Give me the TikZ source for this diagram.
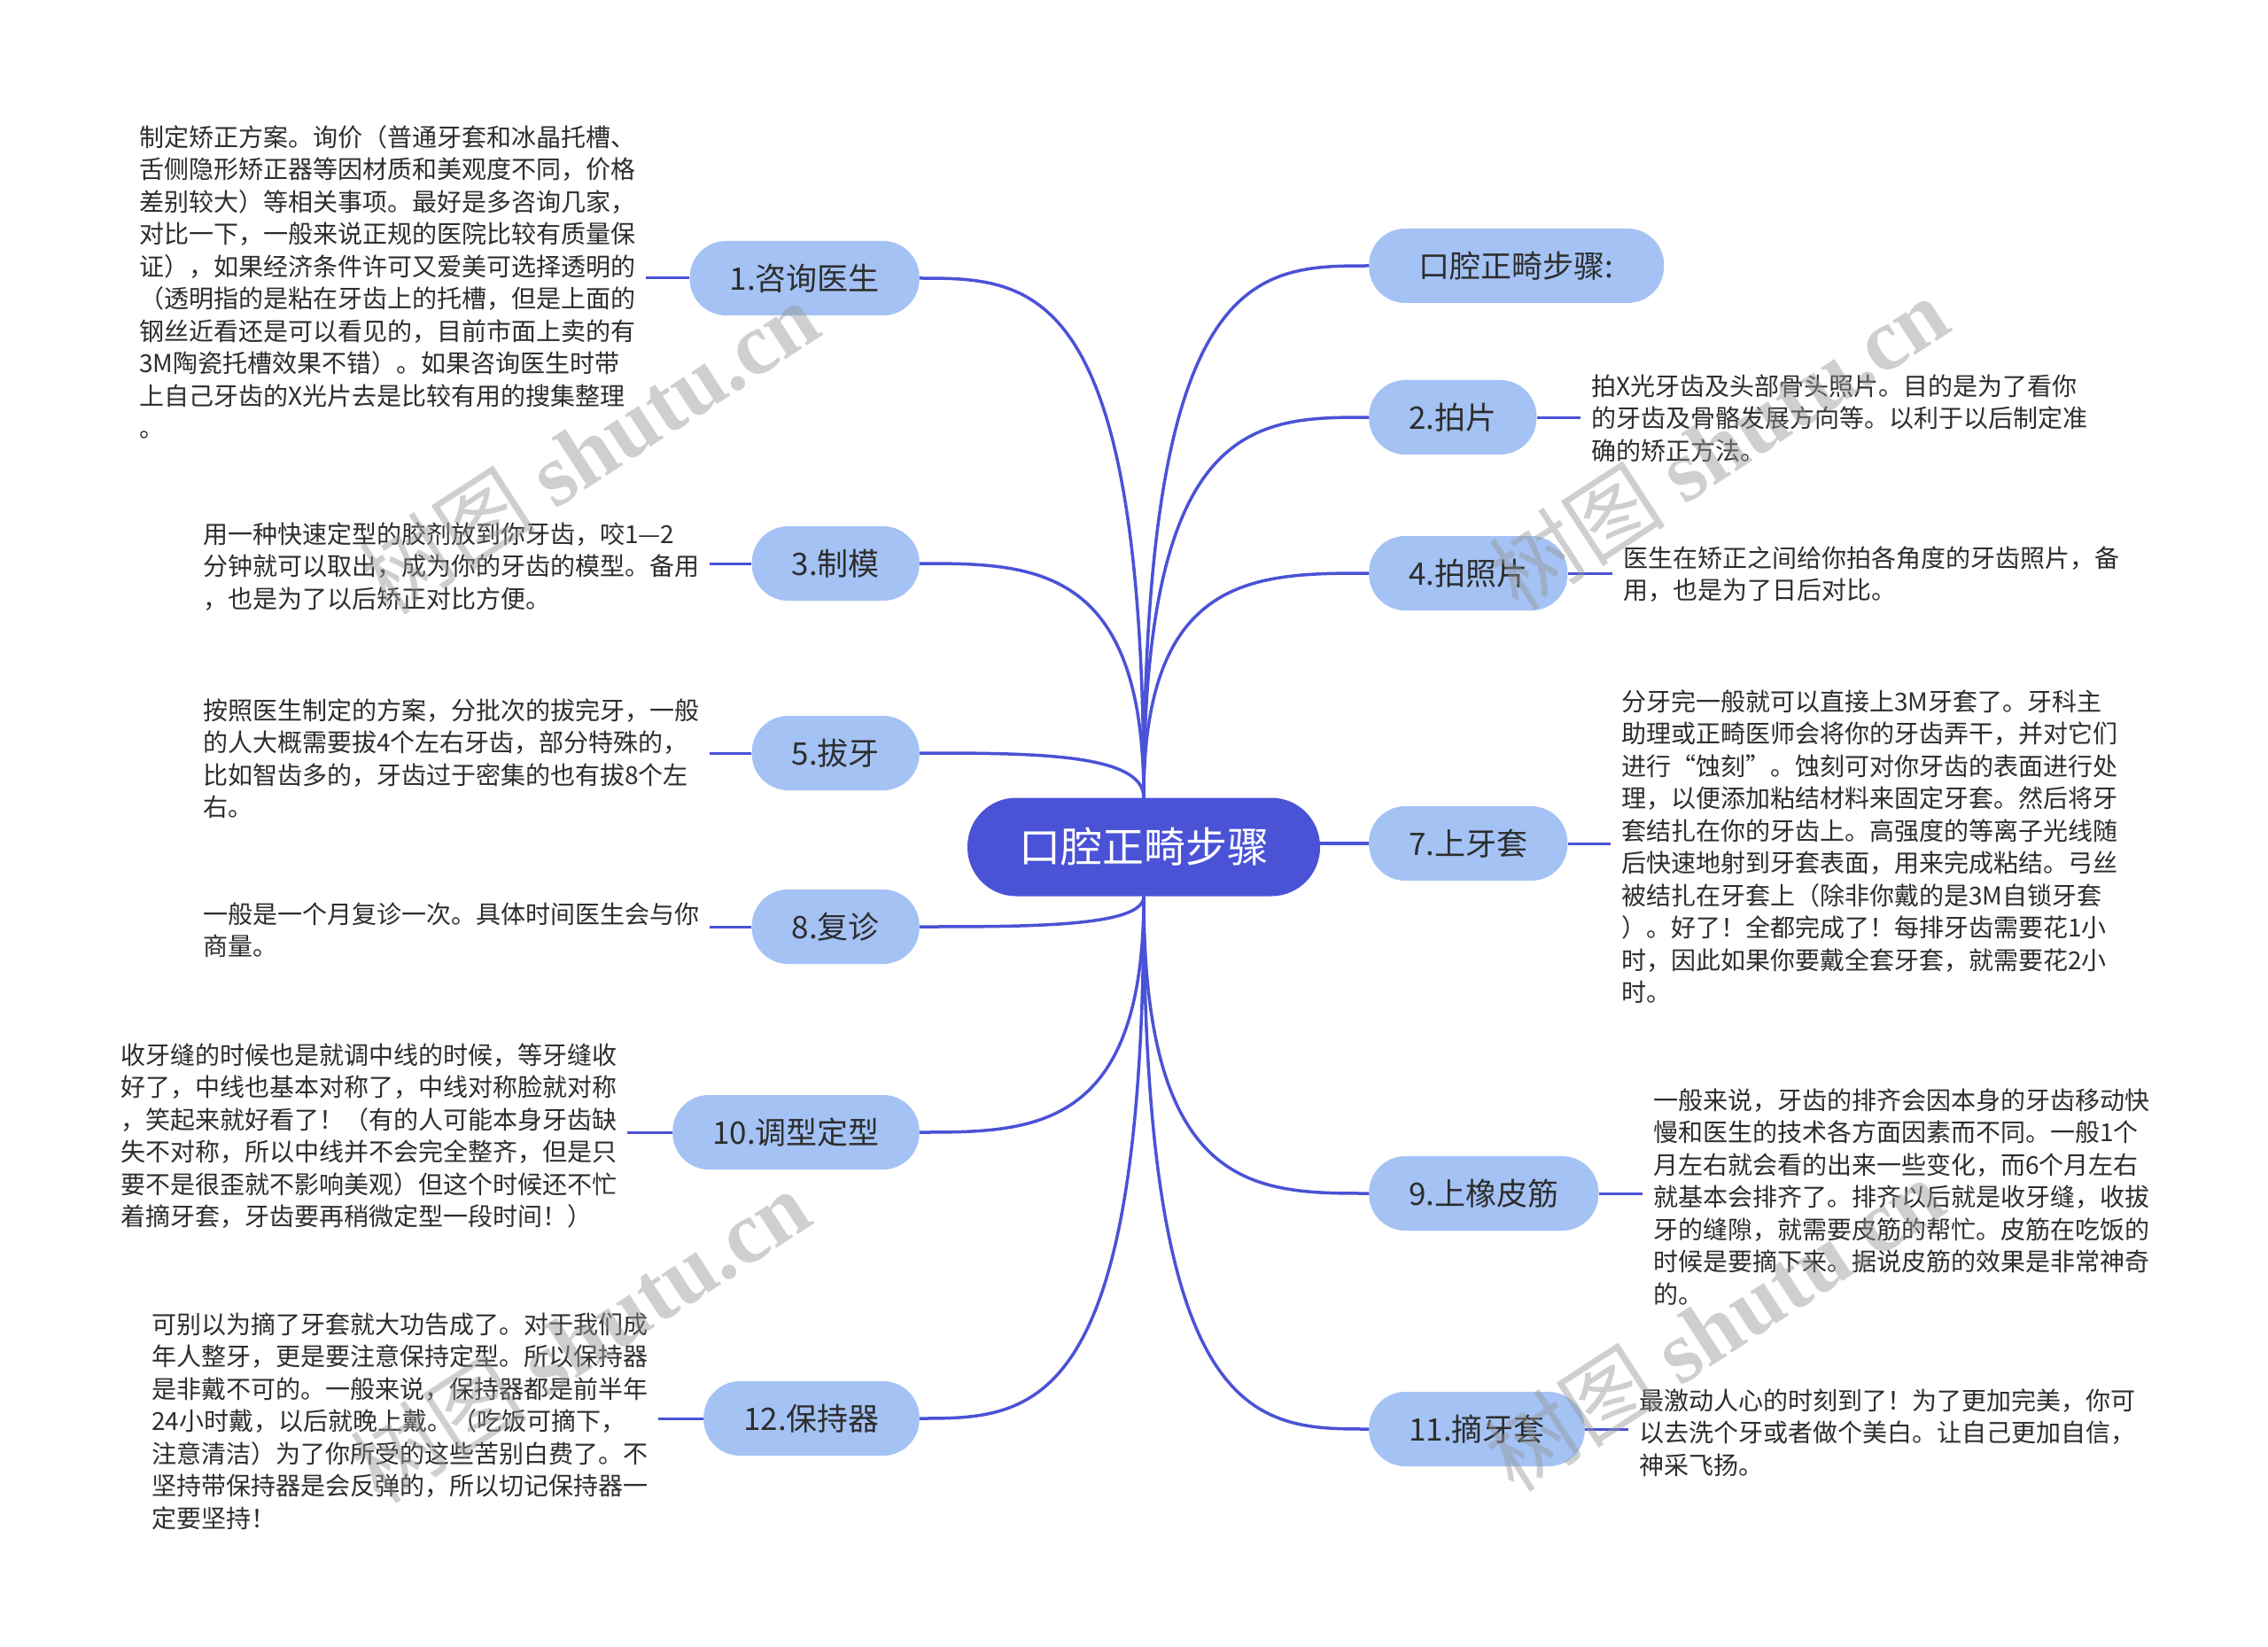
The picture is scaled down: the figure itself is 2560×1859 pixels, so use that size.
\documentclass[tikz,border=0pt]{standalone}
\usepackage{fontspec}
\setmainfont{Noto Sans CJK SC}
\newfontfamily\wmserif{Liberation Serif}
\usetikzlibrary{calc}
\definecolor{mainblue}{RGB}{74,82,214}
\definecolor{branchfill}{RGB}{164,194,244}
\definecolor{txt}{RGB}{45,45,45}
\definecolor{wm}{RGB}{150,150,150}
\newcommand\fl{\rule{0pt}{26pt}}
\newcommand\mmlink[2]{\draw[link] (#1) .. controls (#1 |- #2) and ($(#1 |- #2)!0.5!(#2)$) .. (#2);}
\begin{document}
\begin{tikzpicture}[x=1pt,y=-1pt,
  root/.style={fill=mainblue, text=white, rounded corners=55pt, minimum width=398pt, minimum height=111pt, inner sep=0pt, font=\fontsize{47}{56}\selectfont},
  branch/.style={fill=branchfill, text=txt, rounded corners=41pt, minimum height=84pt, inner xsep=45pt, inner ysep=0pt, font=\fontsize{35}{42}\selectfont},
  rbranch/.style={branch, anchor=west},
  lbranch/.style={branch, anchor=east},
  detail/.style={text=txt, align=left, inner sep=0pt, anchor=north west, font=\fontsize{28}{36.5}\selectfont},
  link/.style={draw=mainblue, line width=3.5pt},
  leaf/.style={draw=mainblue, line width=3pt},
  wmark/.style={text=wm, text opacity=0.45, rotate=33, inner sep=0pt, font=\fontsize{100}{100}\selectfont}
]
\useasboundingbox (0,0) rectangle (2560,1859);
\fill[white] (0,0) rectangle (2560,1859);

% root
\node[root] (c) at (1291,956) {口腔正畸步骤};

% right branches
\node[rbranch, minimum width=333pt] (r0) at (1545,300) {口腔正畸步骤:};
\node[rbranch] (r2) at (1545,471) {2.拍片};
\node[rbranch] (r4) at (1545,647) {4.拍照片};
\node[rbranch] (r7) at (1545,952) {7.上牙套};
\node[rbranch] (r9) at (1545,1347) {9.上橡皮筋};
\node[rbranch] (r11) at (1545,1613) {11.摘牙套};

% left branches
\node[lbranch] (l1) at (1038,314) {1.咨询医生};
\node[lbranch] (l3) at (1038,636) {3.制模};
\node[lbranch] (l5) at (1038,850) {5.拔牙};
\node[lbranch] (l8) at (1038,1046) {8.复诊};
\node[lbranch] (l10) at (1038,1278) {10.调型定型};
\node[lbranch] (l12) at (1038,1601) {12.保持器};

% main connectors
\mmlink{c.north}{r0.west}
\mmlink{c.north}{r2.west}
\mmlink{c.north}{r4.west}
\draw[link] (c.east |- r7.west) -- (r7.west);
\mmlink{c.south}{r9.west}
\mmlink{c.south}{r11.west}
\mmlink{c.north}{l1.east}
\mmlink{c.north}{l3.east}
\mmlink{c.north}{l5.east}
\mmlink{c.south}{l8.east}
\mmlink{c.south}{l10.east}
\mmlink{c.south}{l12.east}

% detail texts
\node[detail] (t1) at (157,139) {\fl 制定矫正方案。询价（普通牙套和冰晶托槽、\\
舌侧隐形矫正器等因材质和美观度不同，价格\\
差别较大）等相关事项。最好是多咨询几家，\\
对比一下，一般来说正规的医院比较有质量保\\
证），如果经济条件许可又爱美可选择透明的\\
（透明指的是粘在牙齿上的托槽，但是上面的\\
钢丝近看还是可以看见的，目前市面上卖的有\\
3M陶瓷托槽效果不错）。如果咨询医生时带\\
上自己牙齿的X光片去是比较有用的搜集整理\\
。};

\node[detail] (t3) at (229,587) {\fl 用一种快速定型的胶剂放到你牙齿，咬1—2\\
分钟就可以取出，成为你的牙齿的模型。备用\\
，也是为了以后矫正对比方便。};

\node[detail] (t5) at (229,786) {\fl 按照医生制定的方案，分批次的拔完牙，一般\\
的人大概需要拔4个左右牙齿，部分特殊的，\\
比如智齿多的，牙齿过于密集的也有拔8个左\\
右。};

\node[detail] (t8) at (229,1016) {\fl 一般是一个月复诊一次。具体时间医生会与你\\
商量。};

\node[detail] (t10) at (136,1175) {\fl 收牙缝的时候也是就调中线的时候，等牙缝收\\
好了，中线也基本对称了，中线对称脸就对称\\
，笑起来就好看了！（有的人可能本身牙齿缺\\
失不对称，所以中线并不会完全整齐，但是只\\
要不是很歪就不影响美观）但这个时候还不忙\\
着摘牙套，牙齿要再稍微定型一段时间！）};

\node[detail] (t12) at (171,1479) {\fl 可别以为摘了牙套就大功告成了。对于我们成\\
年人整牙，更是要注意保持定型。所以保持器\\
是非戴不可的。一般来说，保持器都是前半年\\
24小时戴，以后就晚上戴。（吃饭可摘下，\\
注意清洁）为了你所受的这些苦别白费了。不\\
坚持带保持器是会反弹的，所以切记保持器一\\
定要坚持！};

\node[detail] (t2) at (1796,420) {\fl 拍X光牙齿及头部骨头照片。目的是为了看你\\
的牙齿及骨骼发展方向等。以利于以后制定准\\
确的矫正方法。};

\node[detail] (t4) at (1832,614) {\fl 医生在矫正之间给你拍各角度的牙齿照片，备\\
用，也是为了日后对比。};

\node[detail] (t7) at (1830,776) {\fl 分牙完一般就可以直接上3M牙套了。牙科主\\
助理或正畸医师会将你的牙齿弄干，并对它们\\
进行“蚀刻”。蚀刻可对你牙齿的表面进行处\\
理，以便添加粘结材料来固定牙套。然后将牙\\
套结扎在你的牙齿上。高强度的等离子光线随\\
后快速地射到牙套表面，用来完成粘结。弓丝\\
被结扎在牙套上（除非你戴的是3M自锁牙套\\
）。好了！全都完成了！每排牙齿需要花1小\\
时，因此如果你要戴全套牙套，就需要花2小\\
时。};

\node[detail] (t9) at (1866,1226) {\fl 一般来说，牙齿的排齐会因本身的牙齿移动快\\
慢和医生的技术各方面因素而不同。一般1个\\
月左右就会看的出来一些变化，而6个月左右\\
就基本会排齐了。排齐以后就是收牙缝，收拔\\
牙的缝隙，就需要皮筋的帮忙。皮筋在吃饭的\\
时候是要摘下来。据说皮筋的效果是非常神奇\\
的。};

\node[detail] (t11) at (1850,1565) {\fl 最激动人心的时刻到了！为了更加完美，你可\\
以去洗个牙或者做个美白。让自己更加自信，\\
神采飞扬。};

% leaf connectors
\draw[leaf] (r2.east) -- ($(t2.west |- r2.east)+(-12,0)$);
\draw[leaf] (r4.east) -- ($(t4.west |- r4.east)+(-12,0)$);
\draw[leaf] (r7.east) -- ($(t7.west |- r7.east)+(-12,0)$);
\draw[leaf] (r9.east) -- ($(t9.west |- r9.east)+(-12,0)$);
\draw[leaf] (r11.east) -- ($(t11.west |- r11.east)+(-12,0)$);
\draw[leaf] (l1.west) -- ($(t1.east |- l1.west)+(12,0)$);
\draw[leaf] (l3.west) -- ($(t3.east |- l3.west)+(12,0)$);
\draw[leaf] (l5.west) -- ($(t5.east |- l5.west)+(12,0)$);
\draw[leaf] (l8.west) -- ($(t8.east |- l8.west)+(12,0)$);
\draw[leaf] (l10.west) -- ($(t10.east |- l10.west)+(12,0)$);
\draw[leaf] (l12.west) -- ($(t12.east |- l12.west)+(12,0)$);

% watermarks
\node[wmark] (w1) at (665,505) {树图 {\wmserif\bfseries shutu.cn}};
\node[wmark] (w2) at (1940,500) {树图 {\wmserif\bfseries shutu.cn}};
\node[wmark] (w3) at (655,1508) {树图 {\wmserif\bfseries shutu.cn}};
\node[wmark] (w4) at (1935,1495) {树图 {\wmserif\bfseries shutu.cn}};
\end{tikzpicture}
\end{document}
